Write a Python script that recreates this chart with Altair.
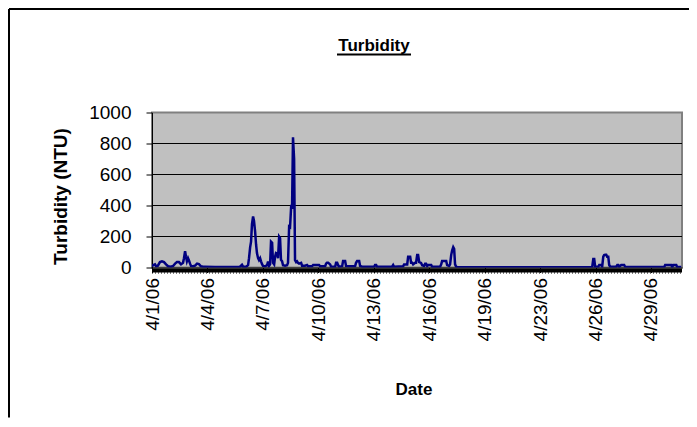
import altair as alt
import pandas as pd

# Category position of each reading, in days from 4/1/06
day_pos = [0.00, 0.05, 0.16, 0.22, 0.32, 0.43, 0.54, 0.65, 0.76, 0.87, 1.03, 1.14, 1.25, 1.35, 1.46,
           1.57, 1.68, 1.73, 1.79, 1.84, 1.89, 1.95, 2.00, 2.06, 2.11, 2.22, 2.33, 2.44, 2.54, 2.65,
           2.76, 2.87, 3.41, 3.95, 4.49, 4.76, 4.82, 4.87, 4.93, 5.09, 5.20, 5.25, 5.31, 5.36, 5.41,
           5.47, 5.52, 5.58, 5.63, 5.68, 5.74, 5.79, 5.85, 5.90, 5.96, 6.01, 6.12, 6.23, 6.28, 6.33,
           6.39, 6.44, 6.50, 6.55, 6.61, 6.66, 6.71, 6.77, 6.82, 6.88, 6.93, 6.98, 7.04, 7.09, 7.20,
           7.31, 7.36, 7.42, 7.47, 7.53, 7.58, 7.63, 7.69, 7.74, 7.80, 7.85, 7.90, 7.96, 8.07, 8.12,
           8.28, 8.39, 8.45, 8.66, 8.72, 9.04, 9.10, 9.37, 9.42, 9.47, 9.53, 9.64, 9.69, 9.91, 9.96,
           10.02, 10.07, 10.12, 10.29, 10.34, 10.45, 10.50, 10.99, 11.04, 11.10, 11.21, 11.26, 11.37,
           12.02, 12.07, 12.13, 12.18, 12.99, 13.05, 13.10, 13.59, 13.64, 13.81, 13.86, 13.97, 14.02,
           14.08, 14.13, 14.24, 14.29, 14.35, 14.40, 14.46, 14.56, 14.62, 14.73, 14.78, 14.83, 14.89,
           14.94, 15.11, 15.16, 15.59, 15.65, 15.70, 15.92, 15.97, 16.08, 16.13, 16.19, 16.24, 16.30,
           16.35, 16.40, 16.46, 16.51, 16.68, 18.84, 21.55, 23.71, 23.82, 23.88, 23.93, 23.98, 24.15,
           24.20, 24.31, 24.36, 24.42, 24.47, 24.53, 24.58, 24.63, 24.69, 24.74, 24.80, 25.12, 25.18,
           25.23, 25.28, 25.39, 25.55, 25.61, 27.72, 27.77, 28.10, 28.15, 28.21, 28.37, 28.42, 28.64]

# Turbidity (NTU) at each of those positions
turbidity = [5, 15, 20, 8, 12, 35, 40, 35, 20, 8, 5, 10, 25, 35, 35,
             20, 30, 60, 105, 70, 40, 60, 45, 25, 10, 8, 12, 25, 22, 8,
             5, 5, 4, 4, 4, 5, 12, 18, 5, 5, 15, 60, 130, 167, 280,
             329, 300, 232, 150, 93, 60, 48, 60, 40, 20, 10, 8, 15, 38, 10,
             20, 167, 160, 30, 20, 70, 93, 90, 60, 199, 190, 50, 40, 15, 12,
             15, 30, 264, 260, 393, 390, 840, 700, 48, 35, 40, 30, 25, 30, 12,
             12, 16, 8, 8, 16, 16, 8, 8, 25, 31, 31, 20, 5, 5, 31,
             31, 15, 5, 8, 42, 42, 10, 8, 30, 42, 42, 10, 5,
             5, 16, 16, 5, 5, 16, 5, 8, 20, 20, 70, 70, 31,
             31, 20, 31, 31, 81, 81, 35, 30, 15, 10, 25, 25, 10,
             16, 16, 5, 5, 20, 42, 42, 15, 10, 20, 80, 110, 131,
             120, 20, 5, 2, 1, 1, 1, 1, 2, 55, 55, 5, 5,
             16, 16, 5, 70, 80, 83, 83, 70, 70, 16, 5, 5, 16,
             16, 5, 16, 16, 3, 3, 16, 16, 3, 16, 16, 3, 3]

tick_days = [0, 3, 6, 9, 12, 15, 18, 21, 24, 27]
tick_labels = ["4/1/06", "4/4/06", "4/7/06", "4/10/06", "4/13/06", "4/16/06",
               "4/19/06", "4/23/06", "4/26/06", "4/29/06"]
y_ticks = [0, 200, 400, 600, 800, 1000]
grid_values = [200, 400, 600, 800]

FONT = "Liberation Sans"
W, H = 530, 155
PAD = {"left": 144, "top": 104.5, "right": 7, "bottom": 150}

df = pd.DataFrame({"day": day_pos, "ntu": turbidity})
label_js = "[" + ",".join("'%s'" % s for s in tick_labels) + "]"

y_scale = alt.Scale(domain=[0, 1000], nice=False)

x_axis = alt.Axis(values=tick_days, labelExpr=label_js + "[round(datum.value/3)]",
                  labelAngle=270, labelAlign="right", labelBaseline="middle",
                  labelFont=FONT, labelFontSize=19, labelColor="black", labelPadding=5,
                  tickColor="black", tickSize=5, domainColor="black", domainWidth=1,
                  grid=False, title=None, labelOverlap=False)
y_axis = alt.Axis(values=y_ticks, format="d", labelFont=FONT, labelFontSize=19, labelColor="black",
                  labelPadding=15, tickColor="black", tickSize=6, domainColor="black",
                  grid=False, title=None)

grid = alt.Chart(pd.DataFrame({"g": grid_values})).mark_rule(color="black", strokeWidth=1).encode(
    x=alt.value(0), x2=alt.value(W), y=alt.Y("g:Q", scale=y_scale, axis=y_axis))

line = alt.Chart(df).mark_line(color="#000080", strokeWidth=2.5, clip=True).encode(
    x=alt.X("day:Q", scale=alt.Scale(domain=[0, 28.68], nice=False, zero=False), axis=x_axis),
    y=alt.Y("ntu:Q", scale=y_scale, axis=y_axis),
)

base = alt.Chart(pd.DataFrame({"k": [0]}))

# dense category tick band under the plot
band = base.mark_rect(color="black").encode(
    x=alt.value(0), x2=alt.value(W), y=alt.value(H + 1), y2=alt.value(H + 5))
dots = base.mark_rule(color="black", strokeDash=[1, 2], strokeWidth=1).encode(
    x=alt.value(0), x2=alt.value(W), y=alt.value(H + 5.5))

# chart-area frame
frame_left = base.mark_rule(color="black", strokeWidth=2).encode(
    x=alt.value(-PAD["left"] + 1), y=alt.value(-PAD["top"] + 1), y2=alt.value(H + PAD["bottom"]))
frame_top = base.mark_rule(color="black", strokeWidth=2).encode(
    x=alt.value(-PAD["left"] + 1), x2=alt.value(W + PAD["right"]), y=alt.value(-PAD["top"] + 1))

title = base.mark_text(text="Turbidity", font=FONT, fontSize=17, fontWeight="bold",
                       align="center", baseline="alphabetic", color="black").encode(
    x=alt.value(222), y=alt.value(-61.5))
underline = base.mark_rule(color="black", strokeWidth=2).encode(
    x=alt.value(185), x2=alt.value(259), y=alt.value(-58))

ytitle = base.mark_text(text="Turbidity (NTU)", font=FONT, fontSize=19, fontWeight="bold",
                        align="center", baseline="middle", angle=270, color="black").encode(
    x=alt.value(-91.5), y=alt.value(84))
xtitle = base.mark_text(text="Date", font=FONT, fontSize=17, fontWeight="bold",
                        align="center", baseline="alphabetic", color="black").encode(
    x=alt.value(262), y=alt.value(282))

chart = alt.layer(grid, band, dots, line, frame_left, frame_top, title, underline, ytitle, xtitle).properties(
    width=W, height=H, padding=PAD, autosize=alt.AutoSizeParams(type="none"),
    background="white",
).configure_view(fill="#C0C0C0", stroke="#808080", strokeWidth=2)

chart.save("out.html", embed_options={"renderer": "svg", "actions": False})
